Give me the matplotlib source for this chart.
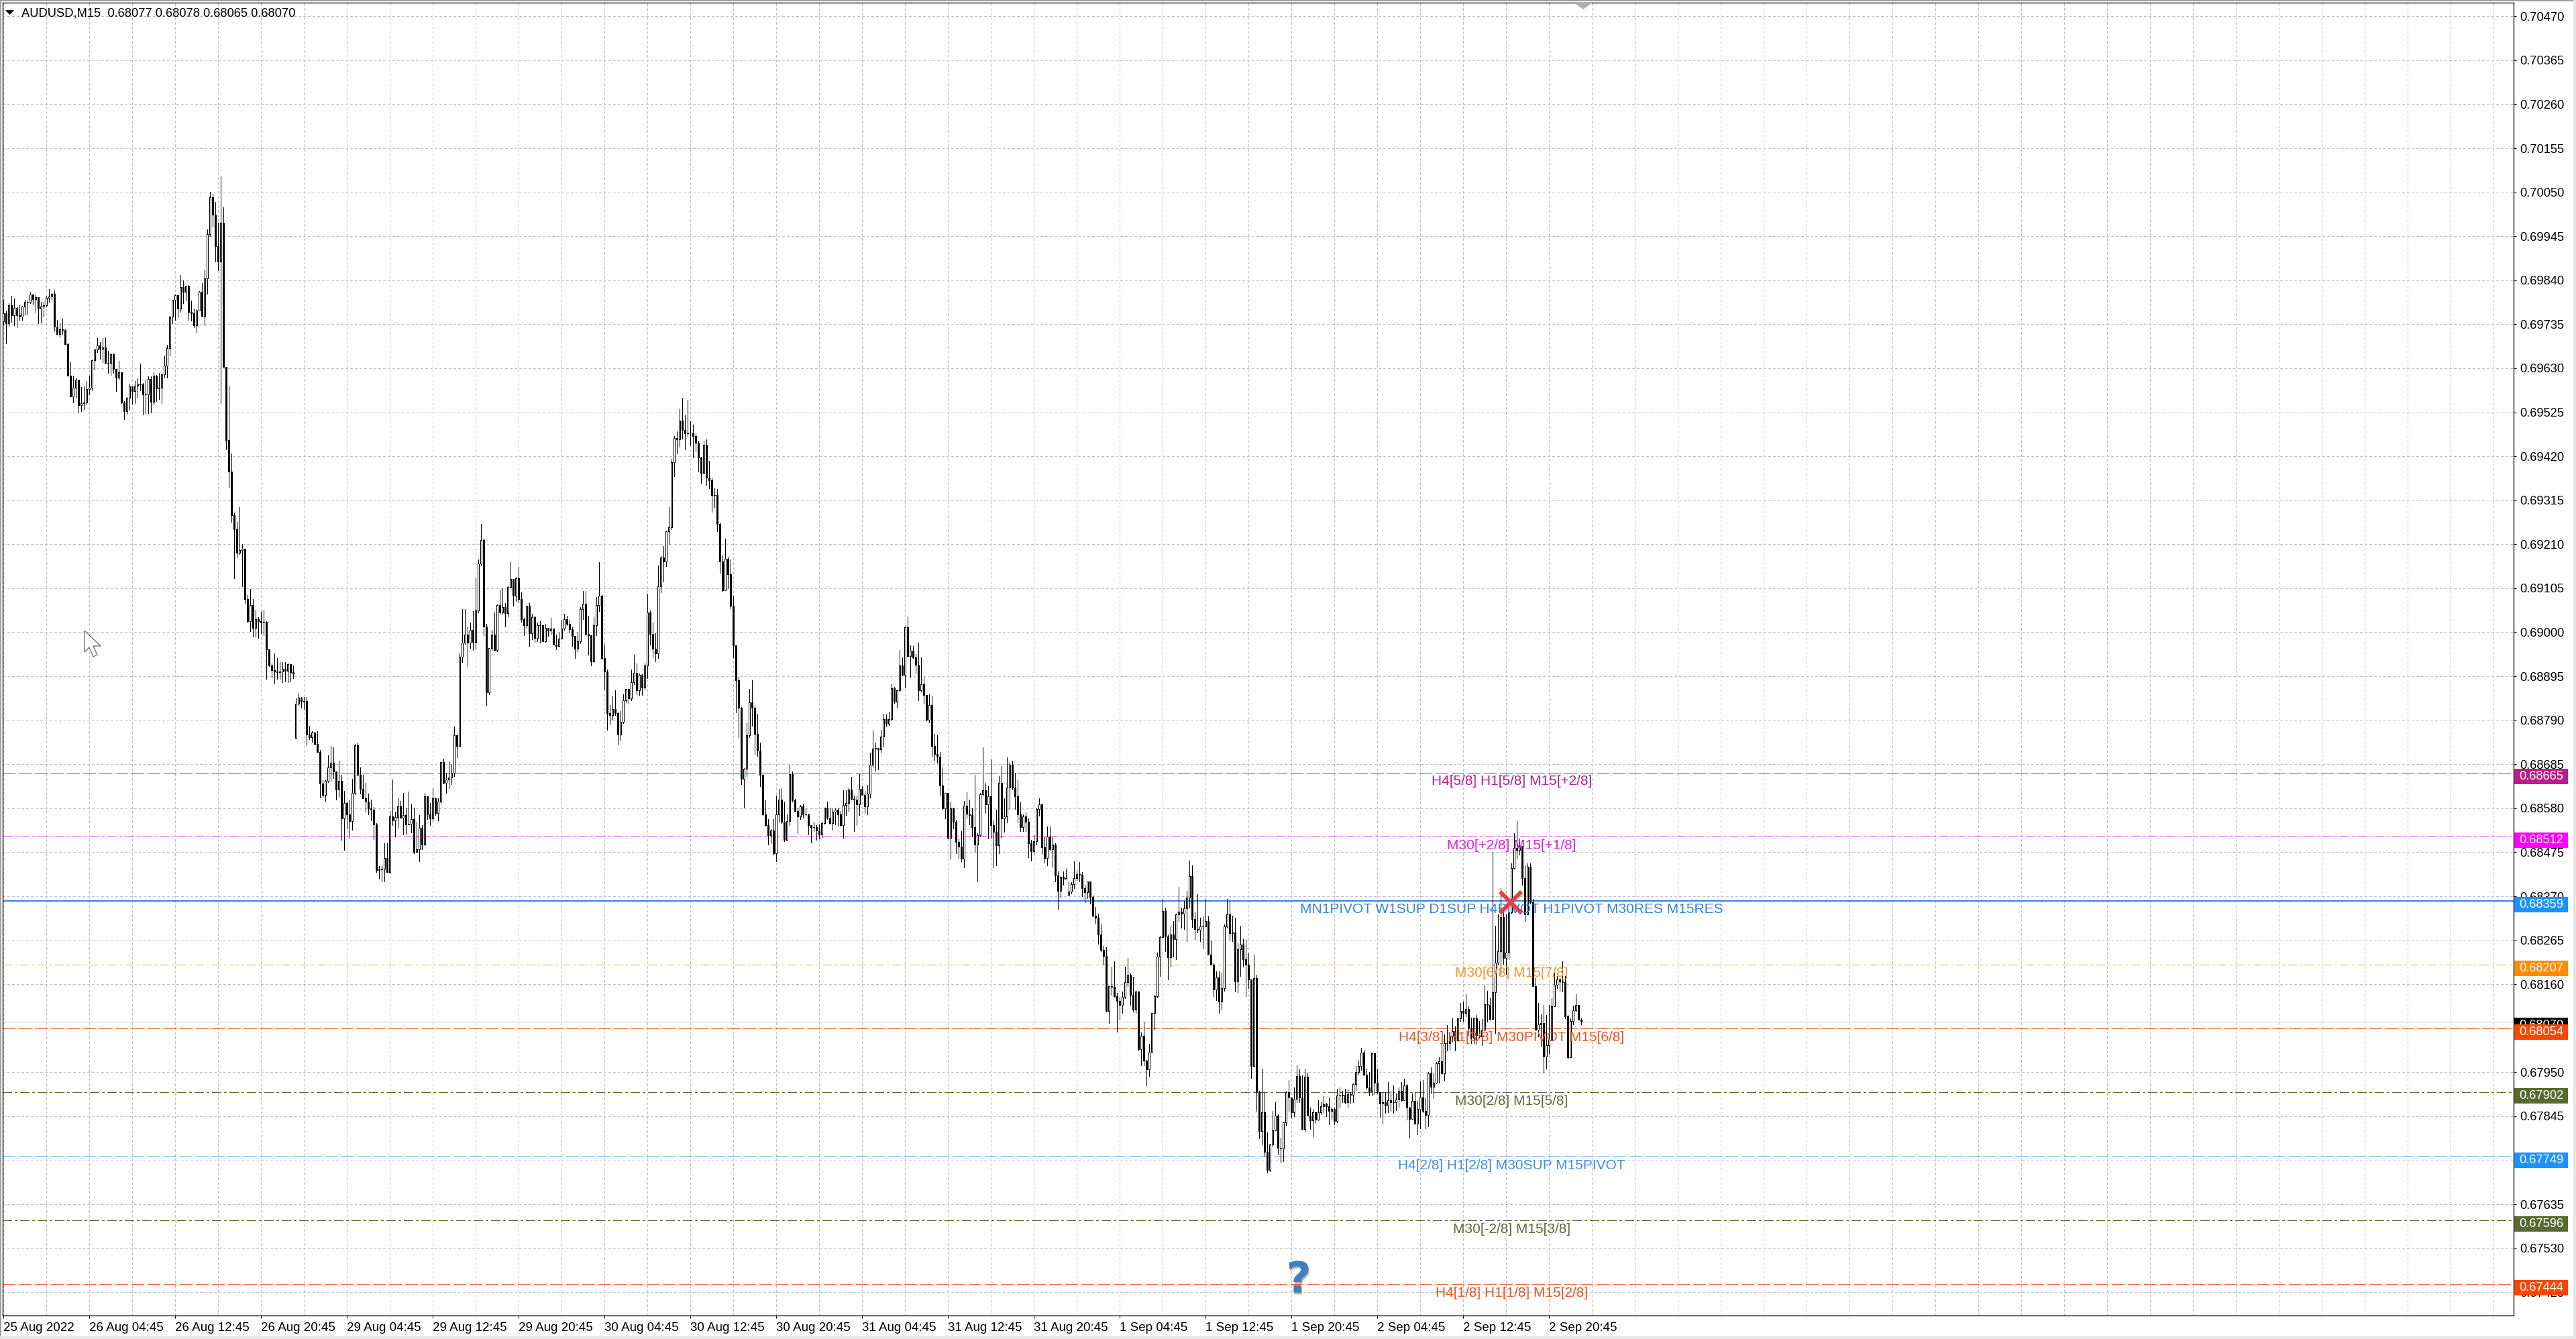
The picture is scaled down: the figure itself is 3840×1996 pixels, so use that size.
import numpy as np
import matplotlib as mpl
mpl.use('Agg')
import matplotlib.pyplot as plt
from matplotlib.patches import Rectangle, Polygon
from matplotlib.transforms import blended_transform_factory
import matplotlib.patheffects as pe

# prices are in points, 68070 means 0.68070
closes = [
69761,69737,69781,69756,69774,69756,69753,69778,69789,69789,
69806,69795,69800,69772,69778,69781,69798,69802,69808,69729,
69712,69723,69721,69688,69613,69563,69584,69603,69542,69547,
69549,69581,69584,69649,69674,69685,69676,69680,69642,69643,
69664,69628,69608,69620,69548,69528,69559,69586,69576,69589,
69593,69592,69568,69568,69605,69550,69613,69582,69584,69616,
69636,69678,69754,69794,69804,69773,69823,69812,69827,69764,
69762,69732,69768,69812,69755,69845,69950,70038,69997,69922,
69885,69978,69633,69458,69384,69279,69246,69190,69196,69199,
69080,69027,69065,69010,69032,69027,69023,69025,68959,68920,
68909,68906,68904,68907,68913,68908,68924,68904,68902,68830,
68844,68835,68836,68756,68750,68761,68734,68715,68639,68612,
68645,68677,68689,68667,68624,68645,68555,68592,68566,68550,
68617,68730,68659,68626,68604,68596,68580,68577,68542,68432,
68434,68436,68462,68428,68561,68551,68559,68585,68557,68564,
68542,68543,68554,68476,68482,68533,68494,68609,68566,68555,
68603,68568,68595,68691,68640,68649,68654,68665,68755,68728,
68941,68975,68995,68975,69005,68976,69052,69164,69220,69013,
68856,68962,68994,68958,69065,69047,69060,69046,69108,69127,
69087,69129,69079,69031,69016,69063,68997,69036,68986,69017,
69016,68979,69011,69004,69009,68971,68967,68985,69009,69031,
69020,69007,68991,68960,68979,69055,69068,68996,68993,68930,
69017,69065,69088,68939,68906,68807,68802,68816,68807,68756,
68786,68837,68864,68843,68880,68903,68862,68899,68868,68921,
69047,68996,68960,68950,69110,69179,69169,69241,69250,69406,
69464,69461,69505,69483,69474,69477,69477,69468,69453,69417,
69381,69448,69369,69363,69327,69327,69259,69169,69100,69176,
69139,69064,68969,68885,68820,68650,68674,68755,68833,68820,
68758,68718,68659,68565,68540,68516,68527,68472,68565,68601,
68547,68505,68549,68662,68599,68574,68560,68584,68565,68565,
68539,68535,68535,68527,68518,68545,68582,68558,68545,68571,
68577,68565,68539,68587,68593,68624,68602,68601,68589,68626,
68612,68585,68615,68683,68723,68724,68720,68751,68793,68782,
68793,68866,68835,68861,68921,68899,69012,68943,68956,68940,
68922,68861,68876,68850,68791,68827,68729,68710,68703,68634,
68580,68616,68510,68580,68548,68500,68489,68459,68586,68567,
68564,68535,68494,68516,68614,68623,68589,68609,68539,68524,
68491,68640,68555,68561,68629,68684,68629,68609,68565,68535,
68561,68548,68497,68478,68502,68578,68590,68487,68461,68512,
68482,68493,68419,68383,68417,68411,68414,68381,68399,68414,
68423,68422,68389,68379,68405,68368,68323,68319,68278,68242,
68227,68097,68155,68154,68131,68120,68111,68130,68165,68182,
68134,68100,68143,68005,68037,67978,67957,67998,68091,68132,
68226,68273,68335,68274,68224,68279,68267,68327,68333,68328,
68341,68367,68418,68316,68292,68290,68298,68298,68311,68231,
68207,68147,68177,68119,68151,68298,68327,68282,68284,68166,
68243,68255,68220,68207,68172,67965,68175,67903,67809,67855,
67760,67717,67778,67811,67846,67770,67768,67830,67902,67890,
67855,67887,67941,67890,67814,67940,67847,67836,67854,67837,
67854,67869,67874,67869,67857,67863,67833,67894,67895,67896,
67878,67898,67896,67922,67951,67965,67997,67944,67914,67904,
67995,67925,67903,67876,67879,67871,67883,67879,67879,67885,
67906,67884,67919,67866,67839,67881,67828,67863,67889,67858,
67848,67947,67916,67925,67971,67976,67947,68019,68020,68036,
68049,68025,68079,68096,68091,68101,68057,68033,68079,68039,
68036,68052,68112,68111,68077,68141,68212,68238,68321,68222,
68236,68331,68438,68486,68480,68490,68413,68326,68440,68355,
68156,68052,68065,68068,67988,68015,68028,68108,68158,68172,
68166,68165,68084,67986,68073,68098,68111,68075,68070]

highs = [
69794,69766,69786,69803,69796,69778,69780,69779,69794,69792,
69812,69805,69804,69792,69789,69789,69802,69819,69810,69815,
69745,69739,69749,69723,69691,69645,69613,69608,69602,69585,
69586,69600,69612,69650,69677,69702,69693,69702,69704,69671,
69665,69665,69627,69647,69620,69552,69561,69593,69585,69600,
69606,69641,69594,69602,69611,69610,69621,69614,69618,69617,
69660,69686,69755,69794,69806,69803,69853,69839,69827,69829,
69792,69773,69771,69814,69834,69866,69962,70051,70046,70027,
69978,70088,70014,69633,69589,69427,69285,69264,69299,69211,
69196,69089,69103,69079,69053,69036,69049,69054,69027,68959,
68925,68950,68939,68931,68929,68928,68925,68924,68920,68842,
68855,68846,68846,68846,68777,68764,68762,68764,68719,68647,
68648,68707,68728,68726,68668,68693,68659,68622,68596,68600,
68650,68734,68736,68678,68659,68641,68615,68601,68583,68544,
68442,68443,68497,68497,68574,68648,68572,68606,68598,68617,
68581,68620,68589,68581,68548,68564,68539,68616,68609,68592,
68627,68606,68604,68691,68698,68665,68692,68686,68775,68755,
68949,69056,69056,69013,69023,69050,69129,69174,69258,69223,
69020,68963,69005,69048,69067,69102,69105,69070,69110,69167,
69127,69132,69156,69096,69035,69064,69070,69044,69040,69024,
69026,69018,69020,69009,69035,69008,68994,69001,69030,69044,
69040,69030,69012,68990,69000,69060,69098,69099,69040,68991,
69037,69084,69167,69091,68971,68911,68826,68848,68861,68809,
68812,68852,68864,68864,68911,68946,68925,68901,68900,68925,
69092,69052,69024,68997,69160,69181,69205,69242,69299,69412,
69468,69479,69534,69560,69518,69554,69505,69496,69475,69457,
69418,69457,69461,69409,69369,69343,69342,69261,69184,69224,
69180,69173,69088,68967,68894,68822,68676,68784,68864,68885,
68824,68806,68737,68661,68599,68554,68530,68554,68610,68626,
68628,68595,68566,68683,68667,68602,68579,68587,68591,68579,
68567,68536,68547,68540,68542,68547,68582,68595,68579,68579,
68580,68582,68573,68623,68623,68628,68655,68610,68610,68662,
68632,68620,68635,68712,68766,68736,68723,68767,68805,68804,
68811,68877,68869,68863,68958,68940,69014,69037,68968,68967,
68948,68974,68940,68893,68850,68852,68848,68758,68754,68714,
68677,68617,68616,68596,68582,68552,68508,68526,68598,68618,
68600,68582,68659,68521,68617,68726,68641,68633,68697,68551,
68576,68657,68681,68604,68702,68690,68694,68665,68649,68594,
68565,68570,68556,68504,68518,68580,68604,68590,68513,68536,
68536,68512,68496,68429,68418,68430,68436,68404,68404,68454,
68433,68452,68428,68398,68406,68403,68372,68344,68328,68303,
68252,68249,68156,68202,68214,68139,68130,68143,68202,68223,
68186,68178,68144,68143,68045,68071,67980,68017,68092,68135,
68236,68276,68364,68343,68279,68298,68311,68328,68393,68343,
68359,68383,68455,68444,68332,68375,68319,68322,68364,68322,
68264,68210,68191,68191,68187,68303,68364,68359,68324,68319,
68258,68299,68268,68266,68234,68154,68231,68182,67905,67958,
67903,67806,67779,67857,67879,67849,67794,67832,67904,67932,
67888,67914,67966,67957,67943,67958,67949,67866,67863,67854,
67884,67879,67893,67877,67889,67866,67866,67911,67914,67905,
67911,67909,67903,67923,67965,67978,68008,68004,67959,67951,
67996,67995,67959,67903,67903,67903,67927,67906,67919,67900,
67914,67927,67935,67921,67868,67900,67903,67882,67928,67932,
67890,67951,67962,67948,67975,67986,68020,68041,68063,68044,
68079,68060,68080,68116,68119,68137,68108,68081,68081,68087,
68073,68077,68157,68144,68129,68475,68300,68326,68390,68331,
68326,68358,68449,68521,68550,68507,68490,68443,68448,68448,
68363,68174,68116,68088,68111,68087,68111,68127,68188,68180,
68174,68214,68180,68087,68079,68109,68137,68108,68078]

lows = [
69732,69689,69729,69741,69732,69728,69745,69745,69758,69758,
69785,69782,69764,69737,69739,69754,69777,69789,69793,69720,
69710,69703,69712,69688,69612,69562,69549,69560,69524,69528,
69533,69544,69567,69577,69626,69669,69653,69645,69641,69618,
69614,69619,69576,69605,69546,69508,69520,69531,69545,69546,
69561,69577,69520,69523,69523,69524,69544,69552,69556,69546,
69609,69607,69661,69738,69746,69751,69764,69785,69791,69746,
69743,69728,69716,69771,69753,69732,69807,69946,69967,69885,
69863,69546,69634,69436,69346,69263,69129,69179,69186,69110,
69069,69024,69002,68990,68990,68987,68997,68992,68889,68919,
68892,68878,68889,68889,68881,68883,68881,68883,68890,68748,
68827,68820,68816,68730,68745,68738,68732,68715,68606,68606,
68598,68642,68645,68652,68601,68607,68504,68481,68531,68509,
68529,68613,68658,68615,68604,68571,68566,68551,68506,68428,
68411,68406,68406,68427,68432,68539,68512,68533,68557,68518,
68519,68543,68522,68473,68476,68454,68482,68491,68554,68540,
68549,68564,68551,68591,68639,68616,68628,68637,68656,68702,
68728,68928,68972,68919,68963,68957,68959,69047,69159,68993,
68826,68852,68956,68957,68955,69044,69044,69013,69038,69111,
69063,69075,69071,69025,68993,69010,68967,68983,68977,68978,
68975,68978,68976,68991,68994,68971,68959,68965,68987,69006,
69017,68999,68967,68939,68955,68973,69031,68993,68947,68921,
68928,68993,69050,68935,68863,68767,68780,68791,68803,68732,
68743,68783,68832,68829,68837,68876,68852,68850,68850,68863,
68891,68970,68942,68930,68938,69095,69121,69157,69211,69246,
69373,69426,69442,69462,69436,69468,69446,69417,69431,69384,
69356,69378,69352,69343,69288,69299,69241,69141,69098,69100,
69105,69057,68940,68809,68750,68637,68582,68657,68749,68777,
68709,68705,68633,68564,68538,68494,68496,68470,68454,68547,
68545,68501,68505,68540,68596,68573,68521,68554,68558,68562,
68518,68498,68525,68505,68507,68510,68543,68554,68543,68529,
68542,68538,68538,68509,68564,68574,68600,68525,68540,68564,
68611,68569,68566,68606,68679,68670,68672,68714,68727,68775,
68778,68789,68831,68822,68860,68896,68868,68941,68894,68938,
68903,68837,68859,68830,68790,68784,68705,68695,68688,68610,
68578,68556,68508,68459,68531,68473,68461,68453,68439,68558,
68541,68513,68475,68405,68512,68611,68569,68507,68510,68439,
68444,68473,68509,68523,68546,68578,68624,68578,68546,68526,
68525,68526,68463,68455,68469,68494,68562,68471,68450,68444,
68480,68441,68405,68340,68367,68397,68412,68373,68376,68390,
68409,68405,68370,68356,68366,68353,68322,68306,68256,68239,
68207,68095,68067,68135,68130,68047,68075,68091,68127,68156,
68111,68095,68092,68002,67967,67967,67918,67941,68001,68051,
68128,68180,68274,68239,68171,68202,68226,68220,68311,68294,
68291,68263,68343,68297,68267,68284,68263,68247,68299,68230,
68207,68132,68122,68091,68099,68145,68295,68266,68263,68143,
68141,68180,68202,68132,68151,67936,67965,67858,67792,67778,
67750,67711,67713,67773,67813,67754,67734,67738,67823,67858,
67842,67845,67879,67879,67813,67809,67846,67815,67797,67829,
67836,67850,67855,67845,67825,67839,67826,67830,67866,67878,
67875,67866,67877,67878,67908,67946,67956,67943,67911,67894,
67895,67898,67900,67844,67827,67853,67855,67858,67853,67859,
67868,67882,67883,67837,67794,67867,67828,67802,67816,67855,
67816,67821,67899,67888,67924,67925,67946,67932,68001,68004,
68022,68001,68024,68073,68073,68084,68039,68020,68020,68017,
68033,68015,68050,68071,68076,68079,68044,68206,68182,68209,
68185,68220,68329,68435,68459,68470,68398,68310,68358,68353,
68156,68052,68036,68012,67949,67959,67993,68029,68108,68150,
68145,68142,68078,67983,67986,68065,68095,68075,68065]

# opens follow the previous close, except the first bar and the gaps
first_open = 69742
gap_opens = {109: 68748, 397: 68373}

xtick_labels = ['25 Aug 2022', '26 Aug 04:45', '26 Aug 12:45', '26 Aug 20:45', '29 Aug 04:45',
                '29 Aug 12:45', '29 Aug 20:45', '30 Aug 04:45', '30 Aug 12:45', '30 Aug 20:45',
                '31 Aug 04:45', '31 Aug 12:45', '31 Aug 20:45', '1 Sep 04:45', '1 Sep 12:45',
                '1 Sep 20:45', '2 Sep 04:45', '2 Sep 12:45', '2 Sep 20:45']

level_prices = [68665, 68512, 68359, 68207, 68054, 67902, 67749, 67596, 67444]
level_colors = ['#B5208A', '#E81AE8', '#2E86E6', '#F0962A', '#E8561F', '#5A6B35', '#3F8FE0', '#5A6B35', '#E8561F']
level_box_colors = ['#BC1E88', '#FF00FF', '#1E90FF', '#FF8C00', '#FF4500', '#556B2F', '#1E90FF', '#556B2F', '#FF4500']
level_kinds = ['dash', 'dashdot', 'solid', 'dashdot', 'dash', 'dashdot', 'dash', 'dashdot', 'dash']
level_names = ['H4[5/8] H1[5/8] M15[+2/8]', 'M30[+2/8] M15[+1/8]',
               'MN1PIVOT W1SUP D1SUP H4PIVOT H1PIVOT M30RES M15RES',
               'M30[6/8] M15[7/8]', 'H4[3/8] H1[3/8] M30PIVOT M15[6/8]',
               'M30[2/8] M15[5/8]', 'H4[2/8] H1[2/8] M30SUP M15PIVOT',
               'M30[-2/8] M15[3/8]', 'H4[1/8] H1[1/8] M15[2/8]']
current_price = 68070
header = 'AUDUSD,M15  0.68077 0.68078 0.68065 0.68070'

W, H = 3840, 1996
px = 0.72  # one pixel in points at dpi 100
plt.rcParams['font.family'] = ['Liberation Sans', 'DejaVu Sans']
plt.rcParams['lines.scale_dashes'] = False

fig = plt.figure(figsize=(W / 100, H / 100), dpi=100, facecolor='white')
ax = fig.add_axes([4 / W, 1 - 1961 / H, (3747 - 4) / W, (1961 - 4) / H])

close = np.array(closes) / 1e5
high = np.array(highs) / 1e5
low = np.array(lows) / 1e5
opens = np.r_[first_open / 1e5, close[:-1]]
for k, v in gap_opens.items():
    opens[k] = v / 1e5
x = np.arange(len(close))

# candles
ax.vlines(x, low, high, colors='black', linewidth=px, antialiased=False, zorder=3)
up = close >= opens
ax.bar(x, np.abs(close - opens), bottom=np.minimum(opens, close), width=0.5,
       color=np.where(up, 'white', 'black'), edgecolor='black', linewidth=px,
       antialiased=False, zorder=3.1)

# levels
dashes = {'dash': (0, (13, 4.3)), 'dashdot': (0, (10, 3, 2.2, 3)), 'solid': '-'}
to_box = blended_transform_factory(fig.transFigure, ax.transData)
for price, col, box, kind, name in zip(level_prices, level_colors, level_box_colors, level_kinds, level_names):
    p = price / 1e5
    ax.axhline(p, color=col, linestyle=dashes[kind], linewidth=2 * px if kind == 'solid' else px,
               antialiased=False, zorder=2)
    ax.text(562, p - 0.00021, name, color=col, fontsize=15, ha='center', va='center', zorder=5)
    ax.add_patch(Rectangle((3748 / W, p - 0.000272), 80 / W, 0.000368, transform=to_box,
                           facecolor=box, edgecolor='none', clip_on=False, zorder=6))
    ax.text(3755 / W, p - 0.000088, '%.5f' % p, color='white', fontsize=13.2, ha='left', va='center',
            transform=to_box, clip_on=False, zorder=7)

# current price line and its label
p = current_price / 1e5
ax.axhline(p, color='#c0c0c0', linewidth=px, antialiased=False, zorder=1.5)
ax.add_patch(Rectangle((3748 / W, p - 0.000272), 80 / W, 0.000368, transform=to_box,
                       facecolor='black', edgecolor='none', clip_on=False, zorder=5.5))
ax.text(3755 / W, p - 0.000088, '%.5f' % p, color='white', fontsize=13.2, ha='left', va='center',
        transform=to_box, clip_on=False, zorder=5.6)

# axes
ax.set_xlim((4 - 5.3) / 4, (3747 - 5.3) / 4)
ax.set_ylim(0.673694, 0.705025)
ax.set_yticks(np.arange(67425, 70471, 105) / 1e5)
ax.set_yticklabels(['%.5f' % v for v in np.arange(67425, 70471, 105) / 1e5])
ax.yaxis.tick_right()
ax.tick_params(axis='y', length=3, width=px, pad=4, labelsize=13.2)

ax.set_xticks(np.arange(0, 577, 32))
ax.set_xticklabels(xtick_labels, ha='left')
ax.set_xticks(np.arange(0, 936, 16), minor=True)
ax.tick_params(axis='x', which='major', length=3, width=px, pad=4, labelsize=13.5)
ax.tick_params(axis='x', which='minor', length=0)
ax.grid(True, which='both', axis='x', color='#c0c0c0', linewidth=px, linestyle=(0, (2.2, 2.2)),
        antialiased=False, zorder=1)
ax.grid(True, which='major', axis='y', color='#c0c0c0', linewidth=px, linestyle=(0, (2.2, 2.2)),
        antialiased=False, zorder=1)
ax.set_axisbelow(True)
for s in ax.spines.values():
    s.set_linewidth(1.3 * px)

# header, objects
ax.text(32 / W, 1 - 20 / H, header, transform=fig.transFigure, fontsize=13.2, color='black', va='center')
ax.plot([(2253 - 5.3) / 4], [0.68353], marker='x', ms=23, mew=4.6, color='#8a8a8a', alpha=0.35, zorder=5)
ax.plot([(2252 - 5.3) / 4], [0.68356], marker='x', ms=23, mew=4.2, color='#E63E48', zorder=5.2)
ax.text((1936 - 5.3) / 4, 0.67453, '?', fontsize=46, fontweight='bold', family='DejaVu Sans', color='#3F7FC0',
        ha='center', va='center', zorder=5,
        path_effects=[pe.withSimplePatchShadow(offset=(1, -2), shadow_rgbFace='#666666', alpha=0.5)])


def fig_poly(points, **kw):
    pts = [(a / W, 1 - b / H) for a, b in points]
    fig.add_artist(Polygon(pts, closed=True, transform=fig.transFigure, **kw))


def fig_rect(x0, y0, x1, y1, col):
    fig.add_artist(Rectangle((x0 / W, 1 - y1 / H), (x1 - x0) / W, (y1 - y0) / H,
                             transform=fig.transFigure, facecolor=col, edgecolor='none'))


# window edges and small pieces of the terminal
fig_rect(0, 0, W, 2, '#a0a0a0')
fig_rect(0, 0, 2, H, '#a0a0a0')
fig_rect(3836, 0, W, H, '#e6e6e6')
fig_rect(0, 1992, W, H, '#e6e6e6')
fig_poly([(8, 15), (21, 15), (14.5, 22)], facecolor='black', edgecolor='none')
fig_poly([(2345, 3), (2375, 3), (2360, 14)], facecolor='#b0b0b0', edgecolor='none')
fig_poly([(126, 940), (126, 972), (133, 965), (139, 979), (145, 976), (139, 963), (150, 963)],
         facecolor='white', edgecolor='#606060', linewidth=1.2 * px)

fig.savefig('out.png', dpi=100)
